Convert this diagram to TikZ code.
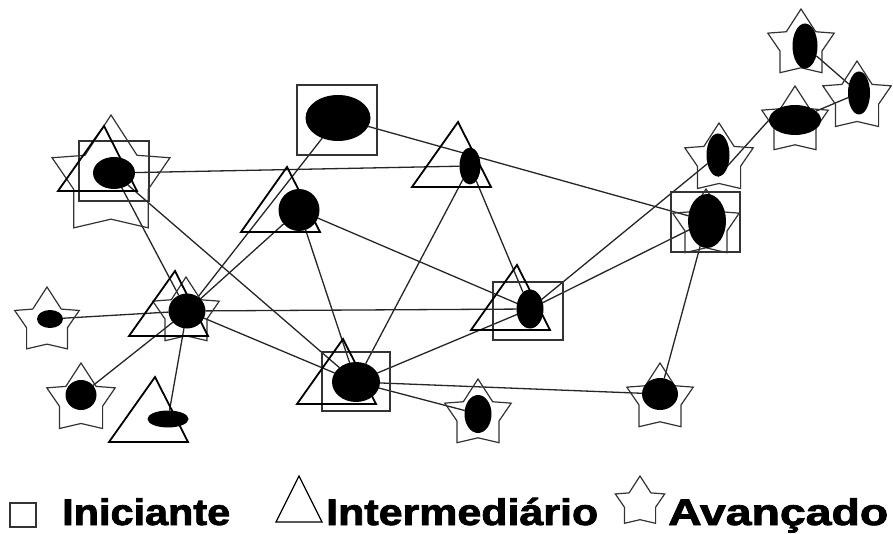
\documentclass[tikz,border=0pt]{standalone}
\usepackage{fontspec}
\newfontfamily\legfont{Liberation Sans}[BoldFeatures={FakeBold=2}]
\usetikzlibrary{shapes.geometric}
\pgfdeclarelayer{bg}
\pgfsetlayers{bg,main}
\newcommand\mystar[3]{\draw[starline,shift={(#1,#2)},scale=#3] (0,-1) -- (0.42,-0.35) -- (0.95,-0.31) -- (0.6,0.2) -- (0.6,0.82) -- (0,0.68) -- (-0.6,0.82) -- (-0.6,0.2) -- (-0.95,-0.31) -- (-0.42,-0.35) -- cycle;}
\newcommand\mytri[2]{\draw[triline] (#1,#2) -- ++(79,0) -- ++(-33,-65) -- cycle;}
\begin{document}
\begin{tikzpicture}[x=1pt,y=-1pt,
  dot/.style={ellipse, fill=black, inner sep=0pt, outer sep=0pt},
  edge/.style={draw=black!85, line width=1.3pt},
  starline/.style={draw=black!80, line width=1.2pt, line join=miter},
  sqline/.style={draw=black!80, line width=1.2pt},
  triline/.style={draw=black, line width=1.8pt, line join=miter},
  legtext/.style={anchor=base west, inner sep=0pt, font={\legfont\bfseries\fontsize{37pt}{37pt}\selectfont}}]
\useasboundingbox (0,0) rectangle (893,534);
\begin{pgfonlayer}{bg}
\fill[white] (0,0) rectangle (893,534);
\end{pgfonlayer}
% stars
\mystar{111}{177}{62}
\mystar{801}{44}{35}
\mystar{857}{97}{36}
\mystar{795}{121}{35}
\mystar{719}{159}{36}
\mystar{706}{224}{35}
\mystar{47}{321}{34}
\mystar{186}{312}{35}
\mystar{81}{399}{36}
\mystar{478}{414}{35}
\mystar{660}{398}{35}
% squares
\draw[sqline] (79,141) rectangle (149,201);
\draw[sqline] (297,85) rectangle (377,155);
\draw[sqline] (671,192) rectangle (740,252);
\draw[sqline] (322,352) rectangle (390,411);
\draw[sqline] (493,282) rectangle (563,340);
% triangles
\mytri{58}{191}
\mytri{412}{187}
\mytri{241}{232}
\mytri{129}{336}
\mytri{109}{442}
\mytri{297}{404}
\mytri{471}{330}
% people
\node[dot, minimum width=42pt, minimum height=32pt] (A) at (114,173) {};
\node[dot, minimum width=65pt, minimum height=46pt] (B) at (338,118) {};
\node[dot, minimum width=21pt, minimum height=37pt] (C) at (470,166) {};
\node[dot, minimum width=41pt, minimum height=42pt] (D) at (299,210) {};
\node[dot, minimum width=25pt, minimum height=45pt] (E1) at (805,46) {};
\node[dot, minimum width=22pt, minimum height=43pt] (E2) at (859,93) {};
\node[dot, minimum width=52pt, minimum height=30pt] (E3) at (795,120) {};
\node[dot, minimum width=23pt, minimum height=43pt] (E4) at (718,155) {};
\node[dot, minimum width=38pt, minimum height=54pt] (F) at (707,221) {};
\node[dot, minimum width=26pt, minimum height=18pt] (G) at (50,319) {};
\node[dot, minimum width=37pt, minimum height=35pt] (H) at (187,311) {};
\node[dot, minimum width=31pt, minimum height=30pt] (I) at (81,395) {};
\node[dot, minimum width=41pt, minimum height=17pt] (J) at (168,419) {};
\node[dot, minimum width=48pt, minimum height=40pt] (K) at (356,382) {};
\node[dot, minimum width=27pt, minimum height=38pt] (L) at (478,414) {};
\node[dot, minimum width=36pt, minimum height=32pt] (M) at (660,394) {};
\node[dot, minimum width=27pt, minimum height=39pt] (N) at (530,309) {};
% connectors
\begin{pgfonlayer}{bg}
\draw[edge] (A) -- (C);
\draw[edge] (A) -- (H);
\draw[edge] (A) -- (K);
\draw[edge] (B) -- (H);
\draw[edge] (B) -- (F);
\draw[edge] (C) -- (K);
\draw[edge] (C) -- (N);
\draw[edge] (D) -- (H);
\draw[edge] (D) -- (N);
\draw[edge] (D) -- (K);
\draw[edge] (G) -- (H);
\draw[edge] (I) -- (H);
\draw[edge] (H) -- (J);
\draw[edge] (H) -- (N);
\draw[edge] (H) -- (K);
\draw[edge] (K) -- (L);
\draw[edge] (K) -- (M);
\draw[edge] (K) -- (N);
\draw[edge] (N) -- (F);
\draw[edge] (N) -- (E4);
\draw[edge] (M) -- (F);
\draw[edge] (E4.south) -- (E3.west);
\draw[edge] (E3) -- (E2);
\draw[edge] (E1) -- (E2);
\end{pgfonlayer}
% legend
\draw[sqline] (10,503) rectangle (36,527);
\draw[triline, line width=1.3pt] (276,522) -- (322,522) -- (299,476) -- cycle;
\mystar{640}{502}{26}
\node[legtext] (l1) at (62,525) {\resizebox{168pt}{\height}{Iniciante}};
\node[legtext] (l2) at (326,525) {\resizebox{272pt}{\height}{Intermediário}};
\node[legtext] (l3) at (668,525) {\resizebox{220pt}{\height}{Avançado}};
\end{tikzpicture}
\end{document}
